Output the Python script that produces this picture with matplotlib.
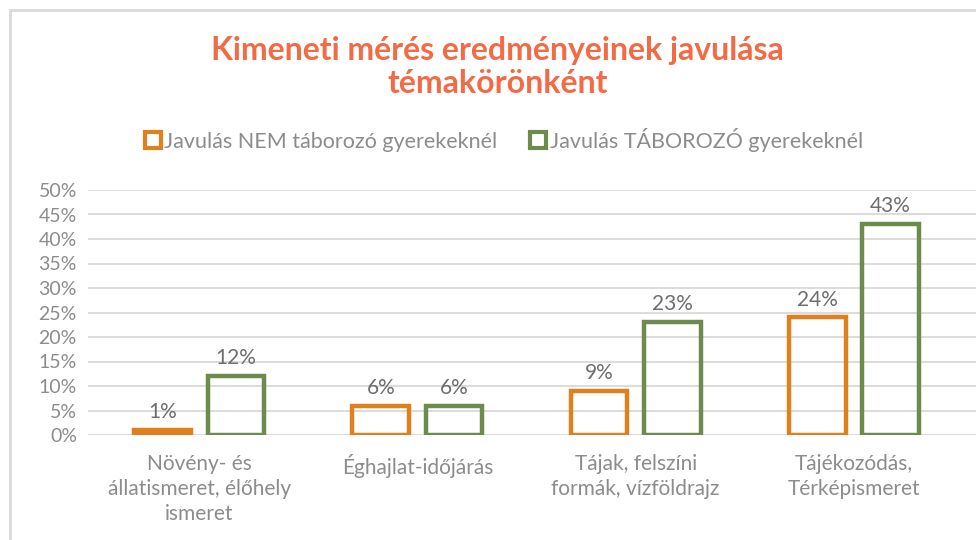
import numpy as np
import matplotlib.pyplot as plt
from matplotlib.patches import Rectangle
from matplotlib.lines import Line2D

plt.rcParams['font.family'] = ['Lato', 'DejaVu Sans']

kategoriak = ['Növény- és\nállatismeret, élőhely\nismeret', 'Éghajlat-időjárás',
              'Tájak, felszíni\nformák, vízföldrajz', 'Tájékozódás,\nTérképismeret']
nem_taborozo = [1, 6, 9, 24]
taborozo = [12, 6, 23, 43]
sorozatok = ['Javulás NEM táborozó gyerekeknél', 'Javulás TÁBOROZÓ gyerekeknél']

narancs = '#E07F1E'
zold = '#6E8B4E'
szurke = '#8C8C8C'

fig = plt.figure(figsize=(9.76, 5.4), dpi=100)
# keret (bal és felső szél látszik)
fig.patches.append(Rectangle((10 / 976, -0.1), 1.2, (530 / 540) + 0.1, transform=fig.transFigure,
                             fill=False, edgecolor='#D9D9D9', lw=2))

ax = fig.add_axes([88 / 976, (540 - 435) / 540, (976 - 88) / 976, 245 / 540])
x = np.arange(len(kategoriak))
w = 0.26
off = 0.168

b1 = ax.bar(x - off, nem_taborozo, w, facecolor='none', edgecolor=narancs, lw=3.2)
b2 = ax.bar(x + off, taborozo, w, facecolor='none', edgecolor=zold, lw=3.2)
# az 1%-os oszlop teli
b1[0].set_facecolor(narancs)

for bars, vals in ((b1, nem_taborozo), (b2, taborozo)):
    for r, v in zip(bars, vals):
        ax.text(r.get_x() + r.get_width() / 2, v + 1.6, f'{v}%', ha='center', va='bottom',
                fontsize=15, color='#6E6E6E')

ax.set_xlim(-0.51, 3.56)
ax.set_ylim(0, 50)
ax.set_yticks(range(0, 51, 5))
ax.set_yticklabels([f'{t}%' for t in range(0, 51, 5)])
ax.yaxis.grid(True, color='#D9D9D9', lw=1.3)
ax.set_axisbelow(True)
for s in ax.spines.values():
    s.set_visible(False)
ax.tick_params(axis='y', length=0, labelsize=14, labelcolor=szurke, pad=8)
ax.set_xticks(x)
ax.set_xticklabels(kategoriak, fontsize=15, color=szurke, linespacing=1.3)
ax.tick_params(axis='x', length=0, pad=14)

fig.text(0.51, 0.876, 'Kimeneti mérés eredményeinek javulása\ntémakörönként', ha='center',
         va='center', fontsize=23, fontweight='bold', color='#F26B45', linespacing=1.2)

handles = [Line2D([], [], marker='s', ls='none', markersize=11, markerfacecolor='white',
                  markeredgecolor=c, markeredgewidth=3) for c in (narancs, zold)]
leg = fig.legend(handles, sorozatok, loc='center', bbox_to_anchor=(0.515, 1 - 140 / 540), ncol=2,
                 frameon=False, labelcolor=szurke, handletextpad=0.05,
                 columnspacing=1.4, handlelength=1.0, prop={'size': 15.5})

fig.savefig('out.png', dpi=100)
